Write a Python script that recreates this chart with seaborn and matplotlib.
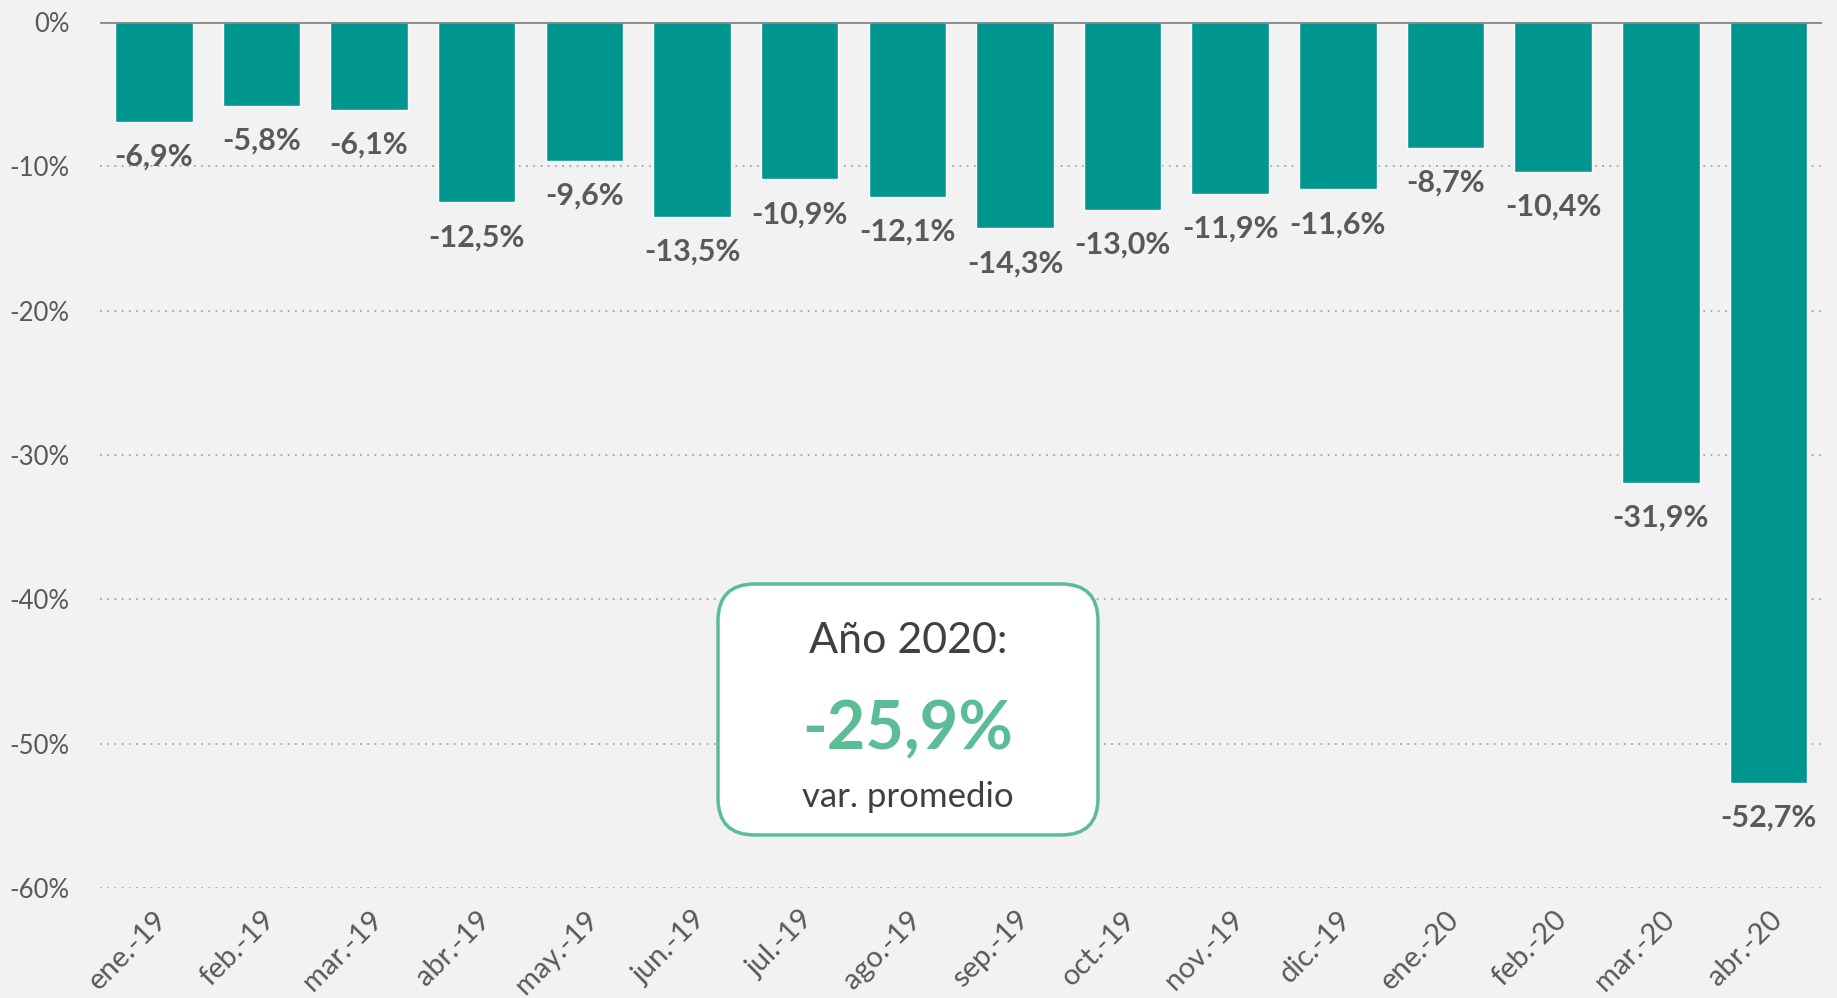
import matplotlib
matplotlib.use("Agg")
import matplotlib.pyplot as plt
import seaborn as sns
import pandas as pd
from matplotlib.patches import FancyBboxPatch

categories = ["ene.-19", "feb.-19", "mar.-19", "abr.-19", "may.-19", "jun.-19",
              "jul.-19", "ago.-19", "sep.-19", "oct.-19", "nov.-19", "dic.-19",
              "ene.-20", "feb.-20", "mar.-20", "abr.-20"]
values = [-6.9, -5.8, -6.1, -12.5, -9.6, -13.5, -10.9, -12.1, -14.3, -13.0,
          -11.9, -11.6, -8.7, -10.4, -31.9, -52.7]
yticks = [0, -10, -20, -30, -40, -50, -60]
box_title = "Año 2020:"
box_value = "-25,9%"
box_sub = "var. promedio"

BG = "#F2F2F2"
TEAL = "#009690"
GREEN = "#5BBD95"
GRAY = "#595959"

sns.set_style("white")
plt.rcParams["font.family"] = ["Lato", "DejaVu Sans"]

fig = plt.figure(figsize=(18.37, 9.98), dpi=100, facecolor=BG)
ax = fig.add_axes([0.0544, 0.110, 0.9376, 0.868])
ax.set_facecolor(BG)

df = pd.DataFrame({"mes": categories, "var": values})
sns.barplot(data=df, x="mes", y="var", color=TEAL, width=0.72, ax=ax,
            saturation=1, errorbar=None, zorder=3)

ax.set_ylim(-60, 0)
ax.set_xlim(-0.5, len(categories) - 0.5)
ax.set_yticks(yticks)
ax.set_yticklabels([f"{v}%" for v in yticks], fontsize=18.5, color=GRAY)
ax.tick_params(axis="y", length=0, pad=22)
ax.tick_params(axis="x", length=0, pad=13)
ax.set_xticks(range(len(categories)))
ax.set_xticklabels(categories, rotation=45, ha="right", rotation_mode="anchor",
                   fontsize=21, color=GRAY)
ax.set_xlabel("")
ax.set_ylabel("")
for s in ax.spines.values():
    s.set_visible(False)

for y in yticks[1:]:
    ax.axhline(y, color="#A6A6A6", lw=1.3, ls=(0, (1, 3)), zorder=1)
ax.axhline(0, color="#898989", lw=2, zorder=4)

for i, v in enumerate(values):
    ax.annotate(f"{v:.1f}%".replace(".", ","), (i, v), xytext=(0, -15),
                textcoords="offset points", ha="center", va="top",
                fontsize=22, fontweight="bold", color=GRAY, zorder=5)

# annotation box (figure pixel coords converted to fraction)
W, H = 1837, 998
bx0, by0, bx1, by1 = 718, 584, 1098, 835
box = FancyBboxPatch((bx0 / W, 1 - by1 / H), (bx1 - bx0) / W, (by1 - by0) / H,
                     boxstyle="round,pad=0,rounding_size=0.02",
                     transform=fig.transFigure, facecolor="white",
                     edgecolor=GREEN, lw=2.5, zorder=10,
                     mutation_aspect=W / H)
fig.patches.append(box)
cx = (bx0 + bx1) / 2 / W
fig.text(cx, 1 - 641 / H, box_title, ha="center", va="center", fontsize=31,
         color="#404040", zorder=11)
fig.text(cx, 1 - 730 / H, box_value, ha="center", va="center", fontsize=48,
         fontweight="bold", color=GREEN, zorder=11)
fig.text(cx, 1 - 797 / H, box_sub, ha="center", va="center", fontsize=25,
         color="#404040", zorder=11)

fig.savefig("out.png", dpi=100, facecolor=BG)
